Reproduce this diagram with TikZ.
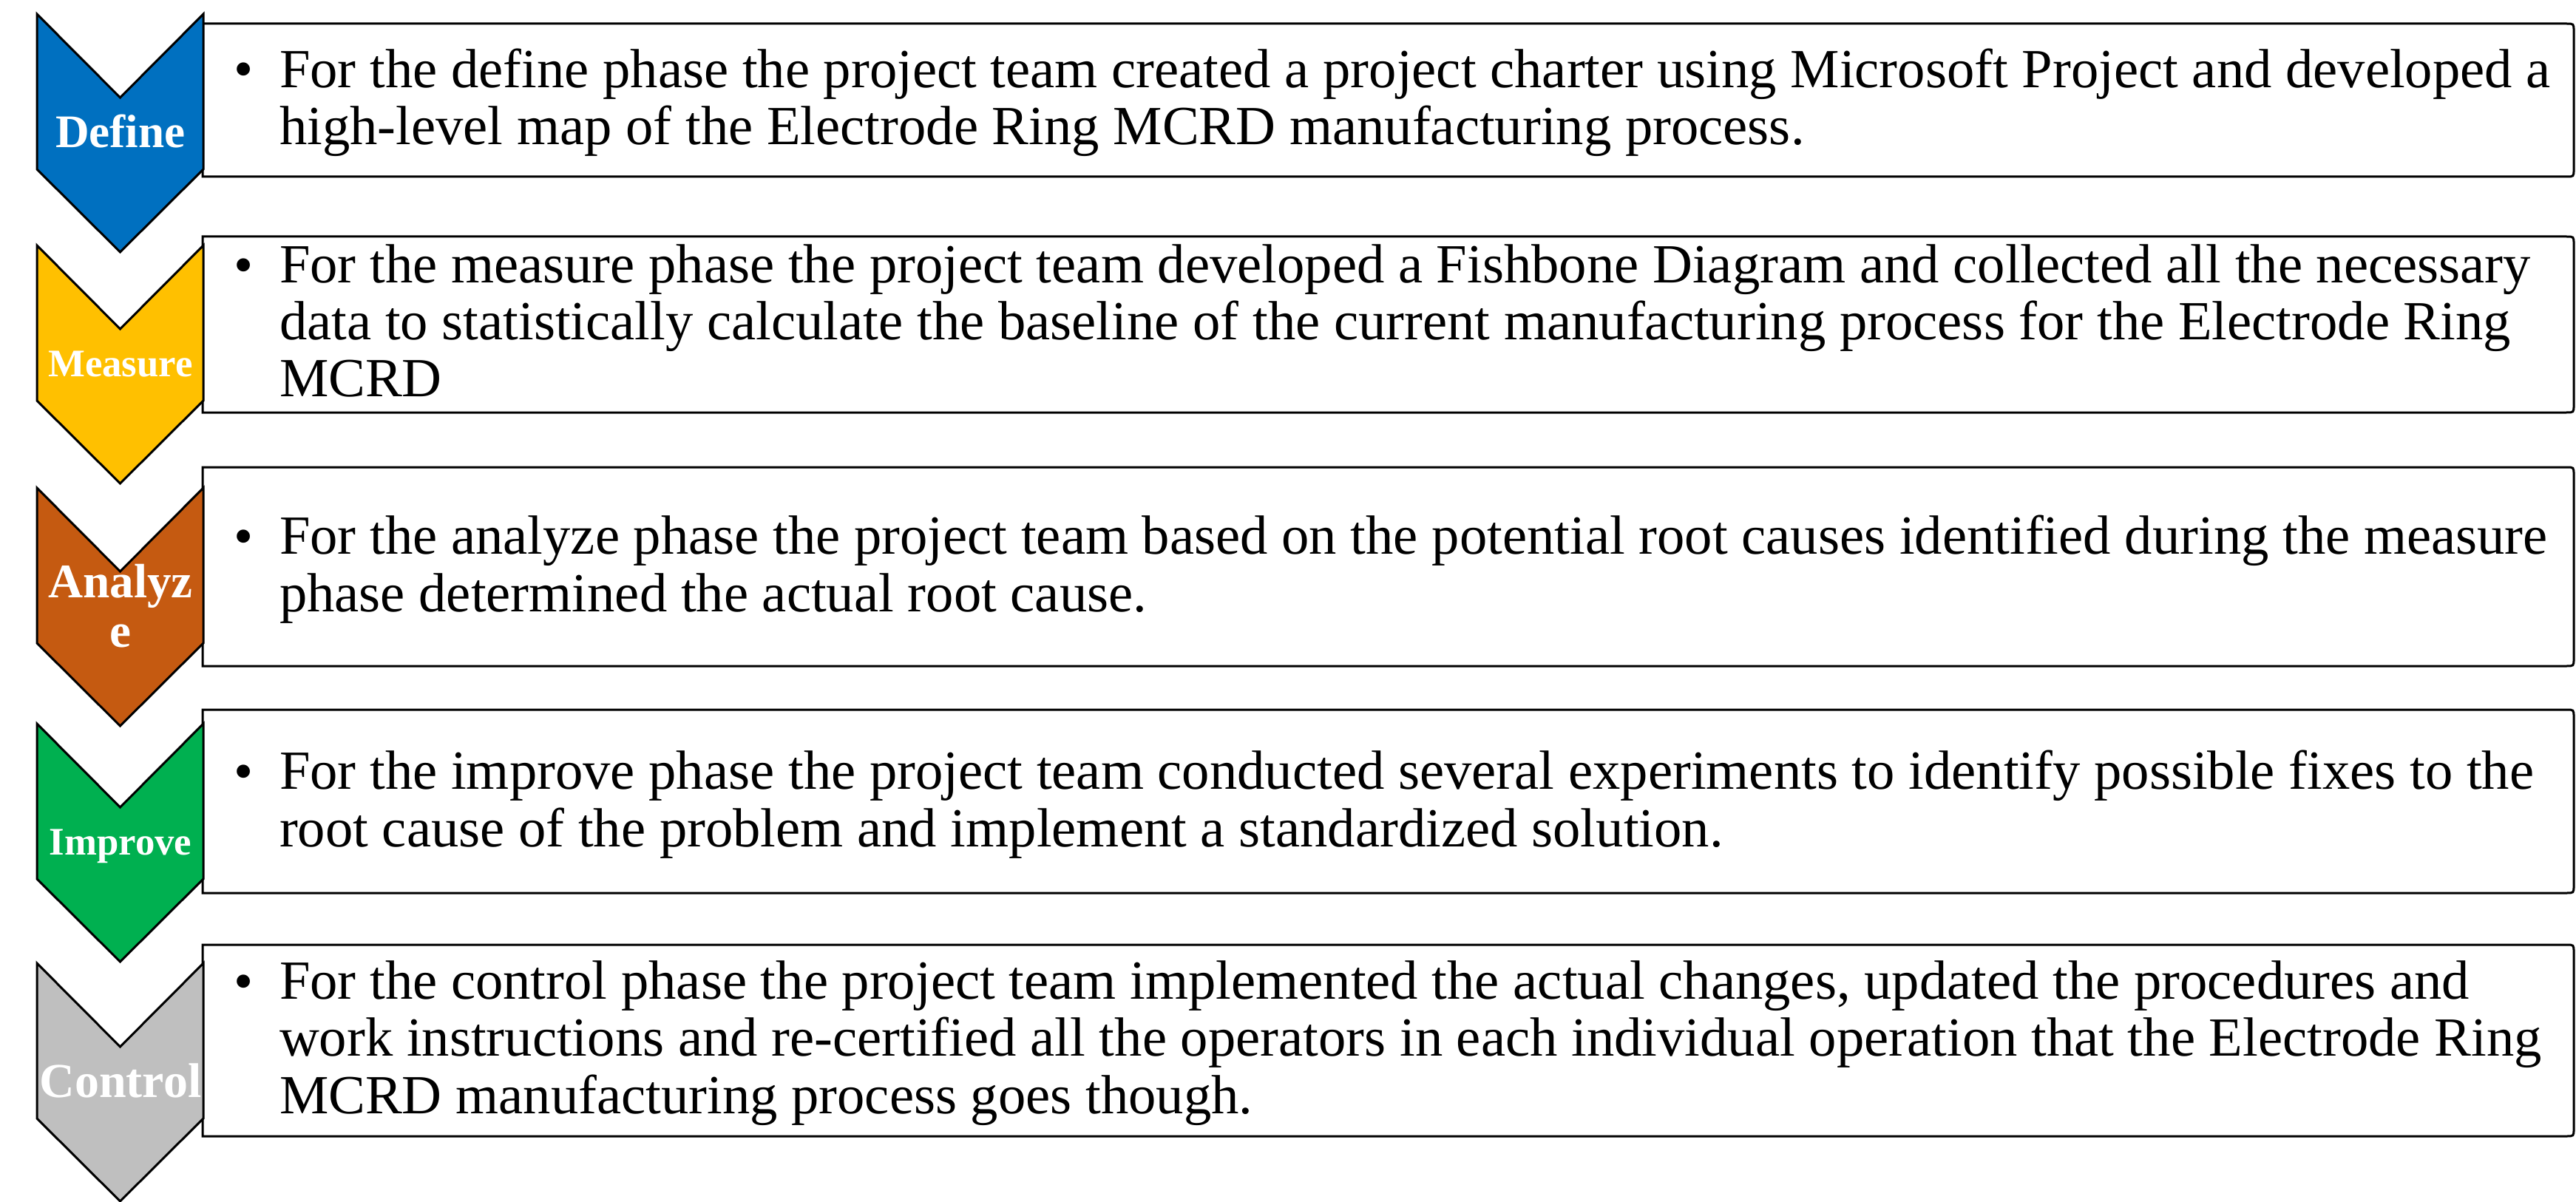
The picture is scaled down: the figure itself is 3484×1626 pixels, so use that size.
\documentclass[tikz,border=0pt]{standalone}
\usepackage{fontspec}
\setmainfont{Liberation Serif}
\definecolor{defineblue}{HTML}{0070C0}
\definecolor{measuregold}{HTML}{FFC000}
\definecolor{analyzerust}{HTML}{C55A11}
\definecolor{improvegreen}{HTML}{00B050}
\definecolor{controlgrey}{HTML}{BFBFBF}
\begin{document}
\begin{tikzpicture}[y=0.25pt, x=0.25pt, yscale=-1.000000, xscale=1.000000, inner sep=0pt, outer sep=0pt,
  chevron/.style={draw=black,line join=miter,miter limit=4.00,line width=0.75pt},
  phasebox/.style={draw=black,fill=white,line join=miter,line width=0.75pt},
  phaselabel/.style={text=white,align=center,anchor=base},
  bulletmark/.style={anchor=base,font=\fontsize{18.66}{19.3}\selectfont},
  bullettext/.style={anchor=base west,align=left,font=\fontsize{18.66}{19.3}\selectfont}]
\useasboundingbox (0,0) rectangle (3484,1626);
  \path[phasebox] (274,32) -- (3471,32) .. controls (3481,32) .. (3481,42) -- (3481,229) .. controls (3481,239) .. (3471,239) -- (274,239) -- cycle;
  \path[phasebox] (274,320) -- (3471,320) .. controls (3481,320) .. (3481,330) -- (3481,548) .. controls (3481,558) .. (3471,558) -- (274,558) -- cycle;
  \path[phasebox] (274,632) -- (3471,632) .. controls (3481,632) .. (3481,642) -- (3481,891) .. controls (3481,901) .. (3471,901) -- (274,901) -- cycle;
  \path[phasebox] (274,960) -- (3471,960) .. controls (3481,960) .. (3481,970) -- (3481,1198) .. controls (3481,1208) .. (3471,1208) -- (274,1208) -- cycle;
  \path[phasebox] (274,1278) -- (3471,1278) .. controls (3481,1278) .. (3481,1288) -- (3481,1527) .. controls (3481,1537) .. (3471,1537) -- (274,1537) -- cycle;
  \path[chevron,fill=defineblue] (50,19) -- (162.5,132) -- (275,19) -- (275,229) -- (162.5,341) -- (50,229) -- cycle;
  \path[chevron,fill=measuregold] (50,332) -- (162.5,445) -- (275,332) -- (275,542) -- (162.5,654) -- (50,542) -- cycle;
  \path[chevron,fill=analyzerust] (50,660) -- (162.5,773) -- (275,660) -- (275,870) -- (162.5,982) -- (50,870) -- cycle;
  \path[chevron,fill=improvegreen] (50,979) -- (162.5,1092) -- (275,979) -- (275,1189) -- (162.5,1301) -- (50,1189) -- cycle;
  \path[chevron,fill=controlgrey] (50,1303) -- (162.5,1416) -- (275,1303) -- (275,1513) -- (162.5,1625) -- (50,1513) -- cycle;
  \node[phaselabel,font=\bfseries\fontsize{15.8}{16.8}\selectfont] (define) at (163,200) {Define};
  \node[phaselabel,font=\bfseries\fontsize{13.2}{14}\selectfont] (measure) at (163,510) {Measure};
  \node[phaselabel,font=\bfseries\fontsize{16.3}{16.75}\selectfont] (analyze) at (163,875) {Analyz\\e};
  \node[phaselabel,font=\bfseries\fontsize{13.2}{14}\selectfont] (improve) at (163,1156) {Improve};
  \node[phaselabel,font=\bfseries\fontsize{16.5}{16.8}\selectfont] (control) at (163,1484) {Control};
  \node[bulletmark] (define bullet) at (330,119) {\textbullet};
  \node[bullettext] (define text) at (378,196) {For the define phase the project team created a project charter using Microsoft Project and developed a\\high-level map of the Electrode Ring MCRD manufacturing process.};
  \node[bulletmark] (measure bullet) at (330,383) {\textbullet};
  \node[bullettext] (measure text) at (378,537) {For the measure phase the project team developed a Fishbone Diagram and collected all the necessary\\data to statistically calculate the baseline of the current manufacturing process for the Electrode Ring\\MCRD};
  \node[bulletmark] (analyze bullet) at (330,750) {\textbullet};
  \node[bullettext] (analyze text) at (378,827) {For the analyze phase the project team based on the potential root causes identified during the measure\\phase determined the actual root cause.};
  \node[bulletmark] (improve bullet) at (330,1068) {\textbullet};
  \node[bullettext] (improve text) at (378,1145) {For the improve phase the project team conducted several experiments to identify possible fixes to the\\root cause of the problem and implement a standardized solution.};
  \node[bulletmark] (control bullet) at (330,1352) {\textbullet};
  \node[bullettext] (control text) at (378,1506) {For the control phase the project team implemented the actual changes, updated the procedures and\\work instructions and re-certified all the operators in each individual operation that the Electrode Ring\\MCRD manufacturing process goes though.};
\end{tikzpicture}
\end{document}
